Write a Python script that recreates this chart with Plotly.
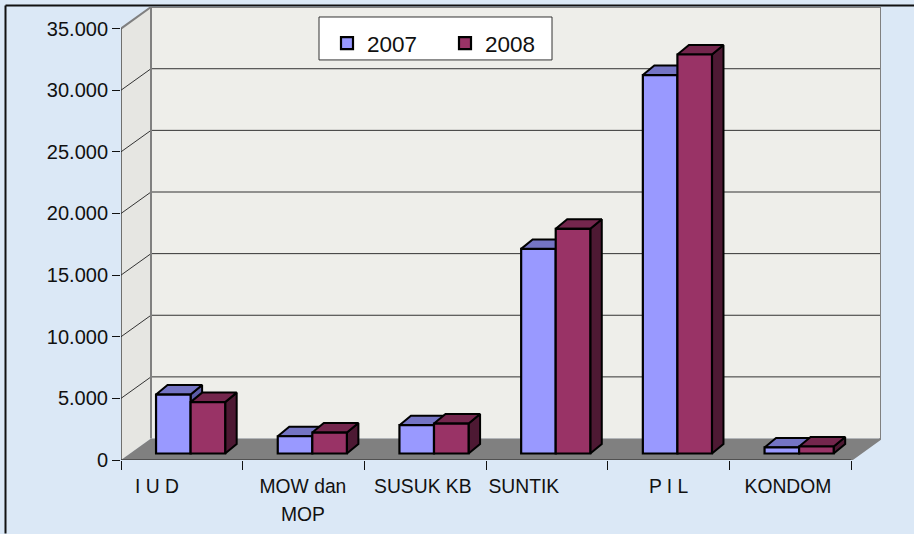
import numpy as np
import plotly.graph_objects as go

categories = ["I U D", "MOW dan", "SUSUK KB", "SUNTIK", "P I L", "KONDOM"]
values_2007 = [4780, 1400, 2300, 16600, 30700, 490]
values_2008 = [4170, 1700, 2430, 18230, 32370, 570]
y_ticks = [0, 5000, 10000, 15000, 20000, 25000, 30000, 35000]

# Pixel geometry of the plot box, used to derive data-unit conversions
LEFT, RIGHT, TOP, BOTTOM = 121, 881, 7, 460.5
PX_X = 121.7            # pixels per category
PX_Y = 61.7 / 5000      # pixels per value unit
W, H = 914, 534
n = len(categories)
x_max = (RIGHT - LEFT) / PX_X
y_max = (BOTTOM - TOP) / PX_Y
WALL_DX, WALL_DY = 30 / PX_X, 21.5 / PX_Y
BAR_DX, BAR_DY = 11.5 / PX_X, 9.5 / PX_Y
BASE = 6.5 / PX_Y
CENTER, BW = 0.572, 0.284
LABEL_POS = [0.296, 1.495, 2.48, 3.31, 4.50, 5.48]

FACE = {"2007": ("#9999ff", "#7474c4", "#5c5ca8"), "2008": ("#993366", "#74264d", "#4d1933")}
BG, WALL, FLOOR = "#dbe8f6", "#eeeeea", "#808080"


def poly(points_list):
    xs, ys = [], []
    for pts in points_list:
        xs += [p[0] for p in pts] + [pts[0][0], None]
        ys += [p[1] for p in pts] + [pts[0][1], None]
    return xs, ys


def area(pts_list, fill, line="rgba(0,0,0,0)", lw=0):
    xs, ys = poly(pts_list)
    return go.Scatter(x=xs, y=ys, mode="lines", fill="toself", fillcolor=fill,
                      line=dict(color=line, width=lw), showlegend=False, hoverinfo="skip")


def path(xs, ys, color, lw):
    return go.Scatter(x=xs, y=ys, mode="lines", line=dict(color=color, width=lw),
                      showlegend=False, hoverinfo="skip")


fig = go.Figure()
top_val = y_ticks[-1]
# walls and floor
fig.add_trace(area([[(WALL_DX, WALL_DY), (x_max, WALL_DY), (x_max, y_max), (WALL_DX, y_max)]], WALL))
fig.add_trace(area([[(0, 0), (WALL_DX, WALL_DY), (WALL_DX, y_max), (0, top_val)]], "#e6e6e2"))
fig.add_trace(area([[(0, 0), (n, 0), (x_max, WALL_DY), (WALL_DX, WALL_DY)]], FLOOR))
# gridlines
for v in y_ticks[1:-1]:
    fig.add_trace(path([0, WALL_DX, x_max], [v, v + WALL_DY, v + WALL_DY], "#333333", 1))
# wall borders
fig.add_trace(path([0, WALL_DX, x_max, x_max, n], [top_val, y_max, y_max, WALL_DY, 0], FLOOR, 2))
fig.add_trace(path([WALL_DX, WALL_DX], [WALL_DY, y_max], FLOOR, 2))
fig.add_trace(path([0, 0, n], [top_val, 0, 0], "#222222", 1.2))

# depth faces
for name, vals, off in (("2007", values_2007, -BW), ("2008", values_2008, 0)):
    tops, sides = [], []
    for i, v in enumerate(vals):
        x0 = i + CENTER + off
        x1 = x0 + BW
        yt = BASE + v
        tops.append([(x0, yt), (x1, yt), (x1 + BAR_DX, yt + BAR_DY), (x0 + BAR_DX, yt + BAR_DY)])
        sides.append([(x1, BASE), (x1 + BAR_DX, BASE + BAR_DY), (x1 + BAR_DX, yt + BAR_DY), (x1, yt)])
    fig.add_trace(area(sides, FACE[name][2], "#000000", 2))
    fig.add_trace(area(tops, FACE[name][1], "#000000", 2))

# front faces, on an overlaying pair of axes so they sit above the depth faces
centers = np.arange(n) + CENTER
fig.add_trace(go.Bar(x=centers, y=values_2007, base=BASE, name="2007", width=BW, offset=-BW,
                     marker=dict(color=FACE["2007"][0], line=dict(color="#000000", width=2.2)),
                     xaxis="x2", yaxis="y2"))
fig.add_trace(go.Bar(x=centers, y=values_2008, base=BASE, name="2008", width=BW, offset=0,
                     marker=dict(color=FACE["2008"][0], line=dict(color="#000000", width=2.2)),
                     xaxis="x2", yaxis="y2"))

font = dict(family="Liberation Sans, Arial, sans-serif", color="#111111")
fig.update_layout(
    width=W, height=H, autosize=False,
    margin=dict(l=LEFT, r=W - RIGHT, t=TOP, b=H - BOTTOM, pad=0),
    paper_bgcolor=BG, plot_bgcolor="rgba(0,0,0,0)",
    separators=",.", barmode="overlay",
    font=dict(size=20, **font),
    xaxis=dict(range=[0, x_max], tickmode="array", tickvals=LABEL_POS, ticktext=categories,
               ticks="", ticklen=0, showgrid=False, zeroline=False, showline=False,
               tickfont=dict(size=19.3, **font), ticklabelstandoff=13,
               minor=dict(tickmode="array", tickvals=list(range(n + 1)), ticks="outside",
                          ticklen=9, tickcolor="#111111", tickwidth=1, showgrid=False)),
    yaxis=dict(range=[0, y_max], tickmode="array", tickvals=y_ticks, tickformat=",d",
               ticks="outside", ticklen=8, tickcolor="#111111", tickwidth=1,
               showgrid=False, zeroline=False, showline=False,
               tickfont=dict(size=20, **font)),
    xaxis2=dict(range=[0, x_max], overlaying="x", visible=False),
    yaxis2=dict(range=[0, y_max], overlaying="y", visible=False),
    legend=dict(orientation="h", x=(327 - LEFT) / (RIGHT - LEFT),
                y=(BOTTOM - 22) / (BOTTOM - TOP), xanchor="left", yanchor="top",
                bgcolor="rgba(0,0,0,0)", borderwidth=0,
                font=dict(size=22.5, **font), entrywidth=73, entrywidthmode="pixels",
                tracegroupgap=0),
    annotations=[dict(text="MOP", xref="x", yref="paper", x=LABEL_POS[1], y=(BOTTOM - 515) / (BOTTOM - TOP),
                      yanchor="middle", xanchor="center", showarrow=False, font=dict(size=19.3, **font))],
    shapes=[
        dict(type="rect", xref="paper", yref="paper", layer="above",
             x0=(319 - LEFT) / (RIGHT - LEFT), x1=(552 - LEFT) / (RIGHT - LEFT),
             y0=(BOTTOM - 60) / (BOTTOM - TOP), y1=(BOTTOM - 17) / (BOTTOM - TOP),
             fillcolor="#ffffff", line=dict(color="#333333", width=1)),
        dict(type="line", xref="paper", yref="paper", layer="above",
             x0=(5.5 - LEFT) / (RIGHT - LEFT), x1=(5.5 - LEFT) / (RIGHT - LEFT),
             y0=(BOTTOM - 534) / (BOTTOM - TOP), y1=(BOTTOM - 5.5) / (BOTTOM - TOP),
             line=dict(color="#111111", width=2)),
        dict(type="line", xref="paper", yref="paper", layer="above",
             x0=(5.5 - LEFT) / (RIGHT - LEFT), x1=(914 - LEFT) / (RIGHT - LEFT),
             y0=(BOTTOM - 5.5) / (BOTTOM - TOP), y1=(BOTTOM - 5.5) / (BOTTOM - TOP),
             line=dict(color="#111111", width=2)),
    ],
)
fig.write_html("out.html", config=dict(displayModeBar=False),
               post_script="document.body.style.margin='0';document.body.style.overflow='hidden';")
